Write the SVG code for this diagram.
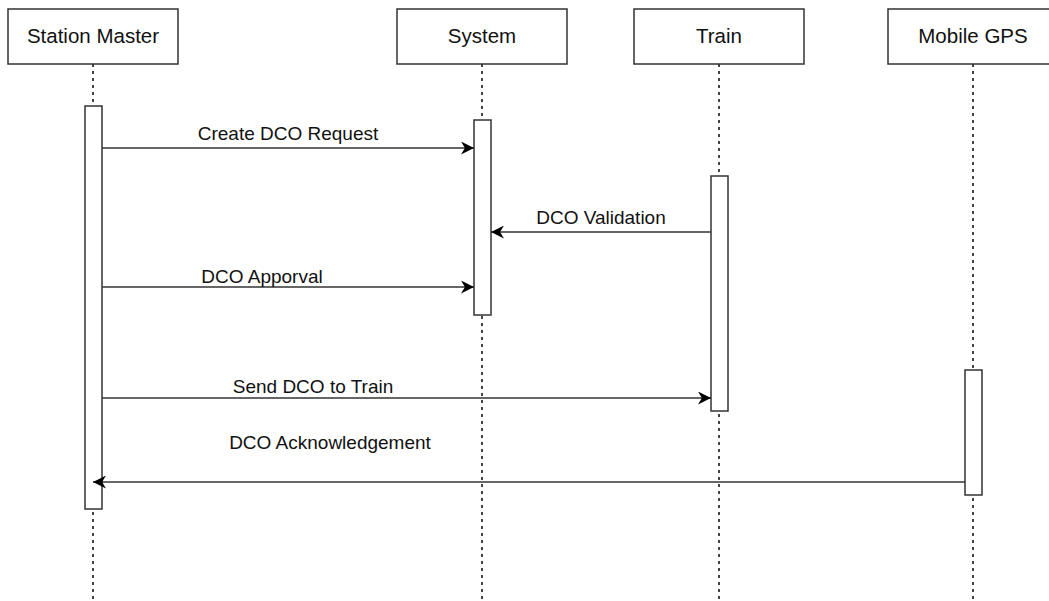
<svg xmlns="http://www.w3.org/2000/svg" width="1049" height="601" viewBox="0 0 1049 601">
<style>
.box{fill:#fff;stroke:#333;stroke-width:1.5}
.life{stroke:#444;stroke-width:2;stroke-dasharray:3,4;fill:none}
.act{fill:#fff;stroke:#333;stroke-width:1.5}
.hdr{font-family:"Liberation Sans",Arial,sans-serif;font-size:20.5px;fill:#111;text-anchor:middle}
.lbl{font-family:"Liberation Sans",Arial,sans-serif;font-size:19px;fill:#111;text-anchor:middle}
.msg{stroke:#333;stroke-width:1.5;fill:none;marker-end:url(#ah)}
</style>
<defs>
<marker id="ah" viewBox="0 0 10 10" refX="10" refY="5" markerWidth="17" markerHeight="13" markerUnits="userSpaceOnUse" orient="auto">
<path d="M0,0 L10,5 L0,10 L3,5 Z" fill="#000"/>
</marker>
</defs>
<rect width="1049" height="601" fill="#fff"/>
<g id="station-master">
<line class="life" x1="93" y1="64" x2="93" y2="601"/>
<rect class="box" x="8" y="9" width="170" height="55"/>
<text class="hdr" x="93" y="43">Station Master</text>
<rect class="act" x="85" y="106" width="17" height="403"/>
</g>
<g id="system">
<line class="life" x1="482" y1="64" x2="482" y2="601"/>
<rect class="box" x="397" y="9" width="170" height="55"/>
<text class="hdr" x="482" y="43">System</text>
<rect class="act" x="474" y="120" width="17" height="195"/>
</g>
<g id="train">
<line class="life" x1="719" y1="64" x2="719" y2="601"/>
<rect class="box" x="634" y="9" width="170" height="55"/>
<text class="hdr" x="719" y="43">Train</text>
<rect class="act" x="711" y="176" width="17" height="235"/>
</g>
<g id="mobile-gps">
<line class="life" x1="973" y1="64" x2="973" y2="601"/>
<rect class="box" x="888" y="9" width="170" height="55"/>
<text class="hdr" x="973" y="43">Mobile GPS</text>
<rect class="act" x="965" y="370" width="17" height="125"/>
</g>
<g id="connectors">
<line class="msg" x1="102" y1="148" x2="474" y2="148"/>
<text class="lbl" x="288" y="140">Create DCO Request</text>
<line class="msg" x1="711" y1="232" x2="491" y2="232"/>
<text class="lbl" x="601" y="224">DCO Validation</text>
<line class="msg" x1="102" y1="287" x2="474" y2="287"/>
<text class="lbl" x="262" y="283">DCO Apporval</text>
<line class="msg" x1="102" y1="398" x2="711" y2="398"/>
<text class="lbl" x="313" y="393">Send DCO to Train</text>
<line class="msg" x1="965" y1="482" x2="93" y2="482"/>
<text class="lbl" x="330" y="449">DCO Acknowledgement</text>
</g>
</svg>
